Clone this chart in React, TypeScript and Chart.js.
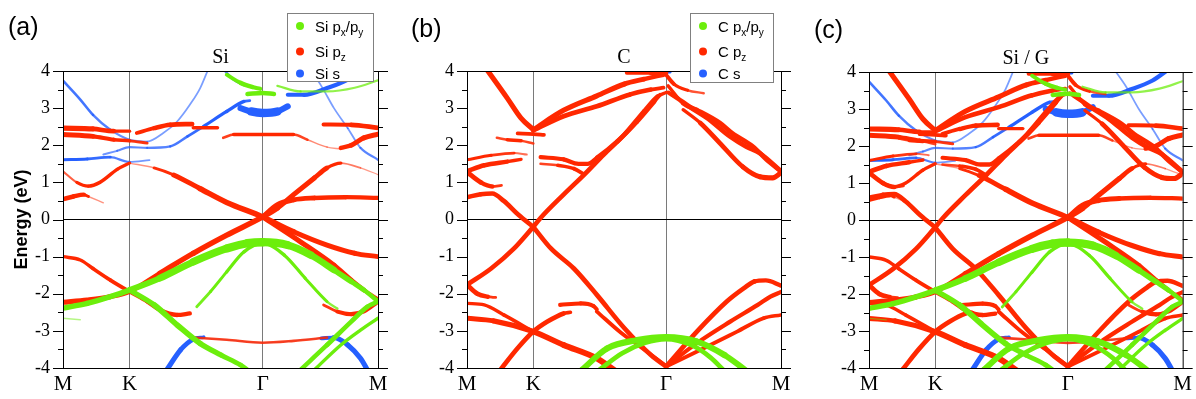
import React, { useEffect, useRef } from 'react';
import { Chart, registerables } from 'chart.js';

Chart.register(...registerables);

// [k along M-K-Γ-M path, energy (eV), orbital weight 0..1]
type Pt = [number, number, number];

const kTicks = [0, 0.5774, 1.7321, 2.7321];
const kLabels = ['M', 'K', 'Γ', 'M'];
const energyTicks = [-4, -3, -2, -1, 0, 1, 2, 3, 4];
const energyMinorStep = 0.5;

// ---------- (a) Si ----------
const siPz: Pt[][] = [
  [[0, -2.23, 0.5], [0.21, -2.17, 0.5], [0.41, -2.08, 0.5], [0.577, -1.94, 0.45], [0.84, -1.45, 0.5], [1.13, -0.91, 0.55], [1.42, -0.42, 0.55], [1.732, 0.07, 0.55], [1.86, 0.31, 0.5], [2.0, 0.67, 0.5], [2.18, 1.12, 0.5], [2.29, 1.39, 0.4], [2.41, 1.52, 0.15], [2.58, 1.39, 0.05], [2.732, 1.21, 0.04]],
  [[0.577, 1.52, 0.04], [0.79, 1.39, 0.08], [0.96, 1.2, 0.4], [1.19, 0.83, 0.55], [1.42, 0.46, 0.55], [1.732, 0.07, 0.55], [2.0, -0.33, 0.5], [2.29, -0.69, 0.5], [2.53, -0.91, 0.5], [2.732, -1.0, 0.45]],
  [[1.732, 0.07, 0.5], [1.86, 0.4, 0.5], [2.0, 0.53, 0.5], [2.18, 0.58, 0.45], [2.45, 0.6, 0.4], [2.732, 0.58, 0.4]],
  [[1.732, 0.07, 0.5], [2.06, -0.6, 0.5], [2.35, -1.23, 0.5], [2.5, -1.63, 0.45], [2.61, -1.9, 0.4], [2.732, -2.15, 0.3]],
  [[2.26, -2.3, 0.1], [2.38, -2.48, 0.35], [2.5, -2.55, 0.4], [2.61, -2.47, 0.4], [2.732, -2.21, 0.4]],
  [[0, -1.0, 0.3], [0.15, -1.09, 0.3], [0.26, -1.32, 0.3], [0.41, -1.63, 0.35], [0.577, -1.94, 0.35], [0.73, -2.21, 0.35], [0.84, -2.44, 0.4], [0.99, -2.57, 0.45], [1.1, -2.53, 0.35]],
  [[0, 2.46, 0.5], [0.26, 2.44, 0.5], [0.44, 2.38, 0.4], [0.577, 2.38, 0.2]],
  [[0, 2.29, 0.5], [0.26, 2.24, 0.45], [0.44, 2.15, 0.35], [0.577, 2.12, 0.3], [0.73, 2.06, 0.15]],
  [[0.64, 2.33, 0.3], [0.79, 2.46, 0.4], [0.93, 2.55, 0.45], [1.12, 2.57, 0.45]],
  [[1.13, 2.47, 0.25], [1.34, 2.47, 0.35]],
  [[1.39, 2.2, 0.12], [1.48, 2.29, 0.3], [2.0, 2.29, 0.3], [2.12, 2.15, 0.1], [2.29, 1.95, 0.05], [2.41, 1.9, 0.05]],
  [[2.41, 1.93, 0.4], [2.5, 2.0, 0.45], [2.61, 2.2, 0.5], [2.732, 2.3, 0.5]],
  [[2.26, 2.56, 0.3], [2.5, 2.55, 0.45], [2.732, 2.47, 0.45]],
  [[0, 0.55, 0.45], [0.09, 0.62, 0.45], [0.18, 0.67, 0.4], [0.22, 0.62, 0.1], [0.35, 0.45, 0.02]],
  [[0, 1.3, 0.05], [0.12, 1.0, 0.25], [0.22, 0.9, 0.3], [0.32, 1.0, 0.3], [0.47, 1.35, 0.3], [0.577, 1.52, 0.25]],
  [[1.13, -3.18, 0.2], [1.42, -3.24, 0.2], [1.732, -3.32, 0.2], [2.0, -3.27, 0.2], [2.29, -3.18, 0.2]],
];

const siPxy: Pt[][] = [
  [[0, -2.39, 0.5], [0.21, -2.26, 0.55], [0.41, -2.08, 0.55], [0.577, -1.9, 0.55], [0.84, -1.58, 0.65], [1.13, -1.14, 0.75], [1.42, -0.78, 0.85], [1.6, -0.64, 0.9], [1.732, -0.61, 0.9], [1.95, -0.69, 0.85], [2.15, -0.96, 0.75], [2.35, -1.36, 0.6], [2.5, -1.67, 0.5], [2.61, -1.9, 0.45], [2.732, -2.2, 0.4]],
  [[1.16, -2.35, 0.2], [1.28, -1.94, 0.25], [1.42, -1.41, 0.25], [1.57, -0.87, 0.3], [1.732, -0.64, 0.3], [1.92, -0.96, 0.3], [2.1, -1.58, 0.25], [2.29, -2.21, 0.25], [2.38, -2.4, 0.1]],
  [[0.577, -1.9, 0.5], [0.79, -2.3, 0.55], [0.99, -2.84, 0.6], [1.19, -3.34, 0.55], [1.37, -3.65, 0.5], [1.54, -3.92, 0.45], [1.6, -4.05, 0.45]],
  [[2.06, -4.05, 0.4], [2.29, -3.38, 0.45], [2.5, -2.75, 0.45], [2.64, -2.35, 0.45], [2.732, -2.21, 0.4]],
  [[2.18, -4.05, 0.3], [2.41, -3.38, 0.3], [2.58, -2.98, 0.3], [2.732, -2.66, 0.3]],
  [[1.42, 3.9, 0.3], [1.54, 3.68, 0.4], [1.64, 3.57, 0.45], [1.71, 3.52, 0.3]],
  [[1.6, 3.38, 0.4], [1.732, 3.41, 0.45], [1.83, 3.38, 0.4]],
  [[1.86, 3.6, 0.2], [2.06, 3.45, 0.15], [2.29, 3.45, 0.15], [2.53, 3.55, 0.15], [2.732, 3.75, 0.15]],
  [[0, -2.66, 0.08], [0.15, -2.7, 0.04]],
];

const siS: Pt[][] = [
  [[0, 3.74, 0.2], [0.15, 3.23, 0.2], [0.26, 2.82, 0.2], [0.41, 2.42, 0.15], [0.577, 2.15, 0.12], [0.73, 2.1, 0.1], [0.87, 2.33, 0.1], [0.99, 2.64, 0.1], [1.1, 3.09, 0.1], [1.19, 3.54, 0.1], [1.26, 4.05, 0.1]],
  [[0, 1.61, 0.25], [0.21, 1.63, 0.25], [0.41, 1.68, 0.2], [0.577, 1.55, 0.15], [0.75, 1.6, 0.08]],
  [[0.35, 1.75, 0.1], [0.47, 1.85, 0.15], [0.577, 1.95, 0.15], [0.73, 1.93, 0.15], [0.93, 1.97, 0.18], [1.08, 2.24, 0.2], [1.22, 2.51, 0.25], [1.42, 2.91, 0.3], [1.57, 3.18, 0.3], [1.62, 3.2, 0.15]],
  [[1.54, 3.0, 0.45], [1.63, 2.91, 0.8], [1.732, 2.87, 1.0], [1.86, 2.91, 0.8], [1.95, 3.05, 0.4]],
  [[1.95, 3.36, 0.35], [2.09, 3.36, 0.4], [2.29, 3.54, 0.4], [2.47, 3.77, 0.4], [2.6, 4.05, 0.4]],
  [[2.14, 4.05, 0.1], [2.24, 3.6, 0.1], [2.35, 3.0, 0.1], [2.47, 2.46, 0.1], [2.58, 1.93, 0.12], [2.732, 1.61, 0.2]],
  [[1.39, 4.05, 0.15], [1.48, 3.77, 0.2], [1.57, 3.62, 0.2]],
  [[0.9, -4.05, 0.5], [1.02, -3.51, 0.5], [1.13, -3.22, 0.4], [1.22, -3.17, 0.25]],
  [[2.24, -3.2, 0.25], [2.35, -3.18, 0.45], [2.47, -3.38, 0.5], [2.58, -3.74, 0.5], [2.64, -4.05, 0.5]],
  [[1.13, -3.18, 0.04], [1.42, -3.24, 0.04], [1.732, -3.32, 0.04], [2.0, -3.27, 0.04], [2.29, -3.18, 0.04]],
];

// ---------- (b) C ----------
const cPz: Pt[][] = [
  [[0.17, 4.05, 0.5], [0.35, 3.27, 0.5], [0.47, 2.73, 0.5], [0.577, 2.42, 0.5]],
  [[0.577, 2.42, 0.5], [0.84, 2.94, 0.5], [1.13, 3.33, 0.5], [1.37, 3.65, 0.5], [1.54, 3.78, 0.45], [1.71, 3.9, 0.4]],
  [[0.577, 2.4, 0.45], [0.84, 2.78, 0.45], [1.13, 3.05, 0.45], [1.42, 3.37, 0.45], [1.6, 3.5, 0.4], [1.71, 3.55, 0.3]],
  [[0.44, 2.32, 0.3], [0.577, 2.3, 0.35], [0.67, 2.28, 0.3]],
  [[0.26, 2.2, 0.1], [0.35, 2.15, 0.3], [0.47, 2.12, 0.3], [0.577, 2.05, 0.1]],
  [[0, 1.61, 0.25], [0.21, 1.73, 0.25], [0.41, 1.79, 0.2], [0.52, 1.75, 0.05]],
  [[0, 1.3, 0.45], [0.15, 1.46, 0.45], [0.35, 1.56, 0.4], [0.47, 1.62, 0.2]],
  [[0, 1.28, 0.45], [0.12, 1.0, 0.45], [0.22, 0.89, 0.4], [0.3, 0.92, 0.05]],
  [[0, 0.6, 0.4], [0.12, 0.68, 0.45], [0.22, 0.7, 0.45], [0.32, 0.5, 0.45], [0.45, 0.12, 0.45], [0.577, -0.2, 0.45]],
  [[0.577, -0.2, 0.45], [0.64, 0.04, 0.45], [0.84, 0.67, 0.45], [1.02, 1.21, 0.45], [1.19, 1.75, 0.45], [1.37, 2.29, 0.45], [1.54, 2.91, 0.45], [1.66, 3.32, 0.4], [1.732, 3.42, 0.2]],
  [[0.64, 1.68, 0.35], [0.84, 1.62, 0.4], [0.97, 1.5, 0.4], [1.05, 1.5, 0.4], [1.13, 1.66, 0.4], [1.31, 2.11, 0.45], [1.48, 2.64, 0.45], [1.63, 3.18, 0.4], [1.68, 3.36, 0.3]],
  [[0.64, 1.5, 0.1], [0.79, 1.46, 0.3], [0.93, 1.37, 0.35], [1.02, 1.21, 0.35]],
  [[1.39, 3.95, 0.3], [1.6, 3.95, 0.4], [1.732, 3.95, 0.5]],
  [[1.75, 3.42, 0.3], [1.79, 3.35, 0.45], [1.94, 3.03, 0.45], [2.09, 2.73, 0.45], [2.29, 2.23, 0.45], [2.43, 1.96, 0.45], [2.55, 1.78, 0.45], [2.732, 1.3, 0.45]],
  [[1.75, 3.6, 0.2], [1.88, 3.13, 0.4], [2.0, 2.95, 0.45], [2.2, 2.6, 0.45], [2.31, 2.32, 0.45], [2.49, 1.96, 0.45], [2.61, 1.6, 0.45], [2.732, 1.3, 0.45]],
  [[1.88, 2.96, 0.1], [2.03, 2.6, 0.45], [2.2, 2.06, 0.45], [2.4, 1.42, 0.45], [2.55, 1.15, 0.5], [2.66, 1.12, 0.5], [2.732, 1.26, 0.5]],
  [[1.732, 3.9, 0.4], [1.8, 3.65, 0.3], [1.92, 3.48, 0.25], [2.06, 3.4, 0.1]],
  [[0, -1.76, 0.45], [0.21, -1.32, 0.45], [0.41, -0.78, 0.45], [0.577, -0.2, 0.45]],
  [[0, -1.76, 0.45], [0.09, -2.0, 0.45], [0.18, -2.08, 0.4], [0.25, -2.1, 0.05]],
  [[0.577, -0.2, 0.45], [0.73, -0.78, 0.45], [0.93, -1.32, 0.45], [1.13, -2.03, 0.45], [1.37, -2.93, 0.45], [1.6, -3.65, 0.45], [1.732, -3.96, 0.45]],
  [[0.29, -4.05, 0.45], [0.44, -3.47, 0.45], [0.577, -3.02, 0.45], [0.7, -2.75, 0.45], [0.84, -2.53, 0.45], [0.9, -2.5, 0.2]],
  [[0.81, -2.3, 0.35], [0.99, -2.26, 0.4], [1.1, -2.33, 0.4], [1.13, -2.42, 0.3]],
  [[1.13, -2.48, 0.35], [1.34, -3.05, 0.35], [1.54, -3.5, 0.35], [1.732, -3.95, 0.35]],
  [[0, -2.66, 0.45], [0.23, -2.73, 0.5], [0.577, -3.02, 0.55], [0.84, -3.38, 0.6], [1.13, -3.74, 0.6], [1.28, -4.05, 0.6]],
  [[0, -2.26, 0.3], [0.15, -2.3, 0.3], [0.32, -2.57, 0.3], [0.577, -3.02, 0.35]],
  [[1.732, -3.96, 0.45], [2.0, -3.02, 0.45], [2.26, -2.21, 0.45], [2.41, -1.85, 0.45], [2.5, -1.67, 0.45], [2.6, -1.64, 0.4], [2.732, -1.78, 0.45]],
  [[1.732, -3.96, 0.4], [2.0, -3.33, 0.4], [2.29, -2.75, 0.4], [2.53, -2.3, 0.4], [2.64, -2.08, 0.4], [2.732, -1.95, 0.4]],
  [[1.732, -3.96, 0.35], [2.06, -3.47, 0.35], [2.35, -3.02, 0.35], [2.58, -2.66, 0.35], [2.732, -2.57, 0.3]],
];

const cPxy: Pt[][] = [
  [[1.0, -4.05, 0.6], [1.22, -3.47, 0.6], [1.48, -3.25, 0.65], [1.732, -3.17, 0.7], [2.0, -3.29, 0.65], [2.24, -3.65, 0.6], [2.42, -4.05, 0.6]],
  [[1.15, -4.05, 0.45], [1.35, -3.6, 0.45], [1.55, -3.32, 0.45], [1.732, -3.22, 0.45], [1.95, -3.38, 0.45], [2.12, -3.72, 0.45], [2.23, -4.05, 0.45]],
];

const cS: Pt[][] = [
  [[1.7, 4.0, 0.5], [1.76, 4.0, 0.5]],
];

const siLegend: [string, boolean][][] = [
  [['Si p', false], ['x', true], ['/p', false], ['y', true]],
  [['Si p', false], ['z', true]],
  [['Si s', false]],
];
const cLegend: [string, boolean][][] = [
  [['C p', false], ['x', true], ['/p', false], ['y', true]],
  [['C p', false], ['z', true]],
  [['C s', false]],
];

// ---------- styling ----------
type Orb = 'pxy' | 'pz' | 's';
const ORB_RGB: Record<Orb, [number, number, number]> = {
  pxy: [108, 238, 12],
  pz: [255, 40, 0],
  s: [38, 96, 255],
};
const LEGEND_ORDER: Orb[] = ['pxy', 'pz', 's'];
const SERIF = "'Liberation Serif', 'Times New Roman', serif";
const SANS = "'Liberation Sans', Arial, sans-serif";

const widthOf = (w: number) => 0.9 + w * 8.4;
const alphaOf = (w: number) => Math.min(1, 0.35 + w * 2.6);

type Group = { orb: Orb; bands: Pt[][] };
type PanelCfg = {
  width: number;
  height: number;
  left: number;
  plot: { left: number; right: number; top: number; bottom: number };
  title: string;
  titleY: number;
  tag: string;
  tagX: number;
  tagY: number;
  legend?: { x: number; y: number; w: number; h: number; rows: [string, boolean][][] };
  yTitle?: string;
  groups: Group[];
};

const panels: PanelCfg[] = [
  {
    width: 400, height: 399, left: 0,
    plot: { left: 63, right: 378, top: 71, bottom: 368 },
    title: 'Si', titleY: 63, tag: '(a)', tagX: 8, tagY: 35,
    legend: { x: 287, y: 13, w: 86, h: 68, rows: siLegend },
    yTitle: 'Energy (eV)',
    groups: [{ orb: 'pxy', bands: siPxy }, { orb: 'pz', bands: siPz }, { orb: 's', bands: siS }],
  },
  {
    width: 400, height: 399, left: 400,
    plot: { left: 67, right: 381, top: 71, bottom: 368 },
    title: 'C', titleY: 63, tag: '(b)', tagX: 11, tagY: 37,
    legend: { x: 290, y: 13, w: 83, h: 69, rows: cLegend },
    groups: [{ orb: 'pxy', bands: cPxy }, { orb: 'pz', bands: cPz }, { orb: 's', bands: cS }],
  },
  {
    width: 396, height: 399, left: 800,
    plot: { left: 69, right: 384, top: 72, bottom: 368 },
    title: 'Si / G', titleY: 64, tag: '(c)', tagX: 14, tagY: 38,
    groups: [
      { orb: 'pxy', bands: siPxy }, { orb: 'pxy', bands: cPxy },
      { orb: 'pz', bands: siPz }, { orb: 'pz', bands: cPz },
      { orb: 's', bands: siS }, { orb: 's', bands: cS },
    ],
  },
];

function Panel({ cfg }: { cfg: PanelCfg }) {
  const ref = useRef<HTMLCanvasElement>(null);

  useEffect(() => {
    const canvas = ref.current;
    if (!canvas) return;
    const datasets: any[] = [];
    cfg.groups.forEach((g) => {
      const [r, gg, b] = ORB_RGB[g.orb];
      g.bands.forEach((band) => {
        const avg = (sc: any) => (band[sc.p0DataIndex][2] + band[sc.p1DataIndex][2]) / 2;
        datasets.push({
          data: band.map((p) => ({ x: p[0], y: p[1] })),
          borderColor: `rgb(${r},${gg},${b})`,
          borderWidth: 2,
          pointRadius: 0,
          cubicInterpolationMode: 'monotone',
          borderCapStyle: 'round',
          borderJoinStyle: 'round',
          clip: 0,
          segment: {
            borderWidth: (sc: any) => widthOf(avg(sc)),
            borderColor: (sc: any) => `rgba(${r},${gg},${b},${alphaOf(avg(sc))})`,
          },
        });
      });
    });

    const decor = {
      id: 'decor',
      afterDraw(chart: any) {
        const { ctx, chartArea: a } = chart;
        const ys = chart.scales.y;
        ctx.save();
        ctx.strokeStyle = '#000';
        ctx.lineWidth = 1;
        ctx.beginPath();
        const lo = energyTicks[0];
        const hi = energyTicks[energyTicks.length - 1];
        for (let v = lo; v <= hi + 1e-9; v += energyMinorStep) {
          const py = Math.round(ys.getPixelForValue(v)) + 0.5;
          const len = Math.abs(v - Math.round(v)) < 1e-6 ? 10 : 5;
          ctx.moveTo(a.left - len, py);
          ctx.lineTo(a.left, py);
          ctx.moveTo(a.right, py);
          ctx.lineTo(a.right + len, py);
        }
        ctx.stroke();
        ctx.strokeRect(a.left + 0.5, a.top + 0.5, a.right - a.left, a.bottom - a.top);

        ctx.fillStyle = '#000';
        ctx.font = `20px ${SERIF}`;
        ctx.textAlign = 'center';
        ctx.textBaseline = 'alphabetic';
        ctx.fillText(cfg.title, (a.left + a.right) / 2, cfg.titleY);

        ctx.font = `25px ${SANS}`;
        ctx.textAlign = 'left';
        ctx.fillText(cfg.tag, cfg.tagX, cfg.tagY);

        if (cfg.yTitle) {
          ctx.save();
          ctx.translate(27, (a.top + a.bottom) / 2);
          ctx.rotate(-Math.PI / 2);
          ctx.font = `bold 18px ${SANS}`;
          ctx.textAlign = 'center';
          ctx.fillText(cfg.yTitle, 0, 0);
          ctx.restore();
        }

        if (cfg.legend) {
          const L = cfg.legend;
          ctx.fillStyle = '#fff';
          ctx.fillRect(L.x, L.y, L.w, L.h);
          ctx.strokeStyle = '#808080';
          ctx.strokeRect(L.x + 0.5, L.y + 0.5, L.w, L.h);
          const rowY = [13, 38.5, 60.5];
          L.rows.forEach((parts, i) => {
            const cy = L.y + rowY[i];
            const [r, gg, b] = ORB_RGB[LEGEND_ORDER[i]];
            ctx.fillStyle = `rgb(${r},${gg},${b})`;
            ctx.beginPath();
            ctx.arc(L.x + 13, cy, 4, 0, Math.PI * 2);
            ctx.fill();
            ctx.fillStyle = '#000';
            let tx = L.x + 28;
            const base = cy + 5.5;
            parts.forEach(([t, sub]) => {
              ctx.font = sub ? `10px ${SANS}` : `15px ${SANS}`;
              ctx.textAlign = 'left';
              ctx.fillText(t, tx, sub ? base + 4 : base);
              tx += ctx.measureText(t).width;
            });
          });
        }
        ctx.restore();
      },
    };

    const chart = new Chart(canvas, {
      type: 'line',
      data: { datasets },
      options: {
        responsive: false,
        animation: false,
        events: [],
        layout: { padding: { top: cfg.plot.top, left: 0, right: 0, bottom: 0 } },
        plugins: { legend: { display: false }, tooltip: { enabled: false }, title: { display: false } },
        scales: {
          x: {
            type: 'linear',
            position: 'bottom',
            min: kTicks[0],
            max: kTicks[kTicks.length - 1],
            afterBuildTicks: (s: any) => { s.ticks = kTicks.map((v) => ({ value: v })); },
            afterFit: (s: any) => { s.height = cfg.height - cfg.plot.bottom; },
            ticks: {
              autoSkip: false,
              maxRotation: 0,
              padding: 4,
              color: '#000',
              font: { family: SERIF, size: 21 },
              callback: (_v: any, i: number) => kLabels[i],
            },
            grid: {
              drawTicks: false,
              lineWidth: 1,
              color: (c: any) => (c.index > 0 && c.index < kTicks.length - 1 ? '#7a7a7a' : 'rgba(0,0,0,0)'),
            },
            border: { display: false },
          },
          y: {
            type: 'linear',
            position: 'left',
            min: energyTicks[0],
            max: energyTicks[energyTicks.length - 1],
            afterBuildTicks: (s: any) => { s.ticks = energyTicks.map((v) => ({ value: v })); },
            afterFit: (s: any) => { s.width = cfg.plot.left; },
            ticks: {
              autoSkip: false,
              padding: 13,
              color: '#000',
              font: { family: SERIF, size: 18 },
              callback: (v: any) => String(v),
            },
            grid: {
              drawTicks: false,
              lineWidth: 1,
              color: (c: any) => (c.tick && c.tick.value === 0 ? '#000' : 'rgba(0,0,0,0)'),
            },
            border: { display: false },
          },
          y2: {
            type: 'linear',
            position: 'right',
            min: energyTicks[0],
            max: energyTicks[energyTicks.length - 1],
            afterFit: (s: any) => { s.width = cfg.width - cfg.plot.right; },
            ticks: { display: false },
            grid: { display: false },
            border: { display: false },
          },
        },
      } as any,
      plugins: [decor],
    });
    return () => chart.destroy();
  }, [cfg]);

  return (
    <canvas
      ref={ref}
      width={cfg.width}
      height={cfg.height}
      style={{ position: 'absolute', left: cfg.left, top: 0, display: 'block' }}
    />
  );
}

export default function App() {
  return (
    <div style={{ position: 'absolute', left: 0, top: 0, width: 1196, height: 399, background: '#fff' }}>
      {panels.map((p) => (
        <Panel key={p.tag} cfg={p} />
      ))}
    </div>
  );
}
